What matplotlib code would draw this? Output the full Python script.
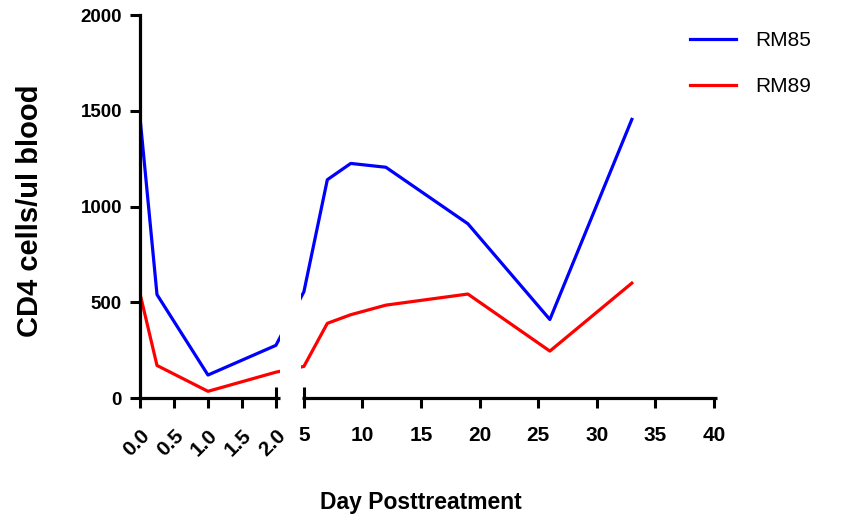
import numpy as np
import matplotlib

matplotlib.use("Agg")
import matplotlib.pyplot as plt

plt.rcParams["font.family"] = ["Liberation Sans", "DejaVu Sans"]

# Data (day, CD4 cells/ul blood)
days = [0, 0.25, 1, 2, 5, 7, 9, 12, 19, 26, 33]
rm85 = [1465, 540, 120, 275, 555, 1140, 1225, 1205, 910, 410, 1455]
rm89 = [545, 170, 35, 135, 165, 390, 435, 485, 543, 245, 600]

xticks = [0, 0.5, 1, 1.5, 2, 5, 10, 15, 20, 25, 30, 35, 40]
xticklabels = ["0.0", "0.5", "1.0", "1.5", "2.0", "5", "10", "15", "20", "25", "30", "35", "40"]
yticks = [0, 500, 1000, 1500, 2000]

BLUE = "#0000ff"
RED = "#ff0000"

# Broken x axis: 0-2 stretched, 5-40 compressed, straight lines across the gap.
G = (28 / 68) / 3
K = 11.72 / 68


def fwd(x):
    x = np.asarray(x, dtype=float)
    return np.where(x <= 2, x, np.where(x <= 5, 2 + (x - 2) * G, 2 + 3 * G + (x - 5) * K))


def inv(y):
    y = np.asarray(y, dtype=float)
    return np.where(y <= 2, y, np.where(y <= 2 + 3 * G, 2 + (y - 2) / G, 5 + (y - 2 - 3 * G) / K))


fig = plt.figure(figsize=(8.47, 5.2), dpi=100)
ax = fig.add_axes([0.1653, 0.2346, 0.6808, 0.7365])
ax.set_xscale("function", functions=(fwd, inv))

ax.plot(days, rm85, color=BLUE, lw=2.3, label="RM85", zorder=2)
ax.plot(days, rm89, color=RED, lw=2.3, label="RM89", zorder=2)

ax.set_xlim(0, 40.24)
ax.set_ylim(0, 2000)

# white-out the break region
ax.axvspan(2.47, 4.72, ymin=-0.01, ymax=1.0, color="white", lw=0, zorder=2.2)

for s in ("top", "right", "bottom"):
    ax.spines[s].set_visible(False)
ax.spines["left"].set_linewidth(2.3)

# bottom axis in two pieces + break marks
for x0, x1 in [(0, 2.43), (4.78, 40.24)]:
    ax.plot([x0, x1], [0, 0], color="black", lw=2.3, clip_on=False, zorder=3,
            solid_capstyle="butt")
for xb in (2, 5):
    ax.plot([xb, xb], [0, 57], color="black", lw=2.2, clip_on=False, zorder=3,
            solid_capstyle="butt")

ax.set_yticks(yticks)
ax.set_xticks(xticks)
ax.set_xticklabels(xticklabels)
ax.tick_params(axis="y", direction="out", length=7, width=2.2, pad=6, labelsize=13.5)
ax.tick_params(axis="x", direction="out", length=7, width=2.2, pad=13, labelsize=15)
for lbl in ax.get_yticklabels():
    lbl.set_fontweight("bold")
for i, lbl in enumerate(ax.get_xticklabels()):
    lbl.set_fontweight("bold")
    if i < 5:
        lbl.set_rotation(45)
        lbl.set_ha("right")
        lbl.set_va("top")
        lbl.set_rotation_mode("anchor")

ax.set_ylabel("CD4 cells/ul blood", fontsize=21, fontweight="bold", va="center")
ax.yaxis.set_label_coords(-0.191, 0.49)
ax.set_xlabel("Day Posttreatment", fontsize=16.5, fontweight="bold", va="center")
ax.xaxis.set_label_coords(0.487, -0.272)

ax.legend(loc="upper left", bbox_to_anchor=(690 / 847, 1 - 31 / 520),
          bbox_transform=fig.transFigure, frameon=False, fontsize=15,
          handlelength=2.2, handletextpad=0.95, labelspacing=1.3,
          borderpad=0, borderaxespad=0)

fig.savefig("out.png", dpi=100, facecolor="white")
